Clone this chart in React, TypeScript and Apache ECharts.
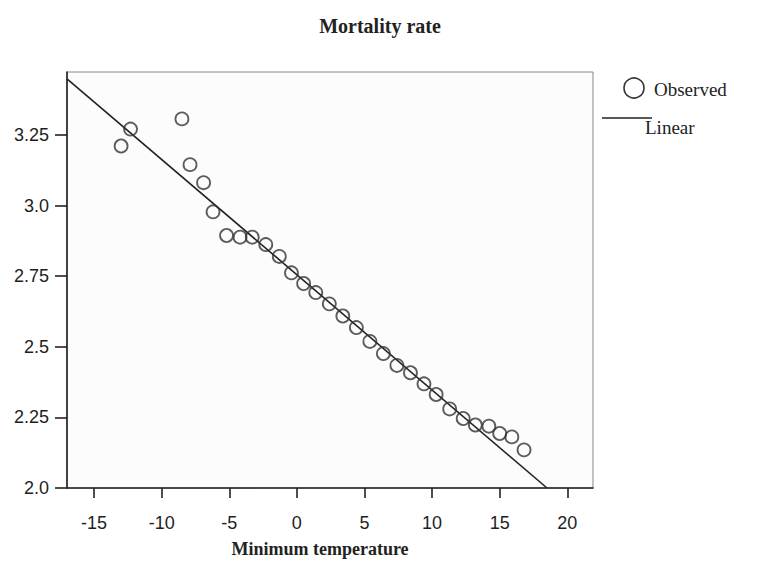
import React, { useEffect, useRef } from "react";
import * as echarts from "echarts";

const titleText = "Mortality rate";
const xAxisTitle = "Minimum temperature";
const xTicks = [-15, -10, -5, 0, 5, 10, 15, 20];
const yTicks = [2.0, 2.25, 2.5, 2.75, 3.0, 3.25];

const obsX = [-13.0, -12.3, -8.5, -7.9, -6.9, -6.2, -5.2, -4.2, -3.3, -2.3, -1.3, -0.4, 0.5, 1.4, 2.4, 3.4, 4.4, 5.4, 6.4, 7.4, 8.4, 9.4, 10.3, 11.3, 12.3, 13.2, 14.2, 15.0, 15.9, 16.8];
const obsY = [3.211, 3.271, 3.307, 3.145, 3.081, 2.978, 2.894, 2.888, 2.888, 2.862, 2.820, 2.762, 2.724, 2.692, 2.652, 2.609, 2.568, 2.519, 2.476, 2.434, 2.408, 2.369, 2.331, 2.280, 2.246, 2.223, 2.219, 2.193, 2.181, 2.135];

const fitX = [-17, 18.5];
const fitY = [3.449, 2.0];

export default function App() {
  const ref = useRef<HTMLDivElement>(null);
  useEffect(() => {
    if (!ref.current) return;
    const chart = echarts.init(ref.current, null, { renderer: "svg" });
    const ink = "#222";
    chart.setOption({
      animation: false,
      backgroundColor: "#ffffff",
      title: {
        text: titleText,
        left: "center",
        top: 11,
        textStyle: { fontFamily: "Liberation Serif", fontWeight: "bold", fontSize: 20, color: ink },
      },
      grid: {
        left: 67,
        top: 72,
        right: 167,
        bottom: 83,
        show: true,
        backgroundColor: "#fcfcfc",
        borderColor: "#888",
        borderWidth: 1,
      },
      xAxis: {
        type: "value",
        min: -17,
        max: 21.9,
        axisLine: { show: true, onZero: false, lineStyle: { color: ink, width: 1.6 } },
        axisTick: { show: true, inside: false, length: 10, customValues: xTicks, lineStyle: { color: ink, width: 1.6 } },
        axisLabel: { customValues: xTicks, margin: 26, fontFamily: "Liberation Sans", fontSize: 18, color: "#1e1e1e" },
        splitLine: { show: false },
      },
      yAxis: {
        type: "value",
        min: 2.0,
        max: 3.473,
        interval: 0.25,
        axisLine: { show: true, onZero: false, lineStyle: { color: ink, width: 1.6 } },
        axisTick: { show: true, inside: false, length: 12, lineStyle: { color: ink, width: 1.6 } },
        axisLabel: {
          showMaxLabel: false,
          margin: 18,
          fontFamily: "Liberation Sans",
          fontSize: 18,
          color: "#1e1e1e",
          formatter: (v: number) => (Number.isInteger(v * 2) ? v.toFixed(1) : v.toFixed(2)),
        },
        splitLine: { show: false },
      },
      series: [
        {
          name: "Linear",
          type: "line",
          data: fitX.map((x, i) => [x, fitY[i]]),
          showSymbol: false,
          lineStyle: { color: ink, width: 1.6 },
          z: 2,
        },
        {
          name: "Observed",
          type: "scatter",
          data: obsX.map((x, i) => [x, obsY[i]]),
          symbol: "circle",
          symbolSize: 13,
          itemStyle: { color: "rgba(255,255,255,0)", borderColor: "#333", borderWidth: 1.8 },
          z: 3,
        },
      ],
      graphic: [
        {
          type: "text",
          x: 320,
          y: 549,
          style: {
            text: xAxisTitle,
            font: "bold 18px 'Liberation Serif'",
            fill: ink,
            align: "center",
            verticalAlign: "middle",
          },
        },
        {
          type: "circle",
          shape: { cx: 634, cy: 88, r: 10 },
          style: { fill: "none", stroke: "#333", lineWidth: 1.6 },
        },
        {
          type: "text",
          x: 654,
          y: 89,
          style: { text: "Observed", font: "19px 'Liberation Serif'", fill: ink, verticalAlign: "middle" },
        },
        {
          type: "line",
          shape: { x1: 602, y1: 118, x2: 652, y2: 118 },
          style: { stroke: ink, lineWidth: 1.3 },
        },
        {
          type: "text",
          x: 645,
          y: 127,
          style: { text: "Linear", font: "19px 'Liberation Serif'", fill: ink, verticalAlign: "middle" },
        },
      ],
    });
    return () => chart.dispose();
  }, []);
  return <div ref={ref} style={{ width: 760, height: 571, position: "absolute", left: 0, top: 0 }} />;
}
